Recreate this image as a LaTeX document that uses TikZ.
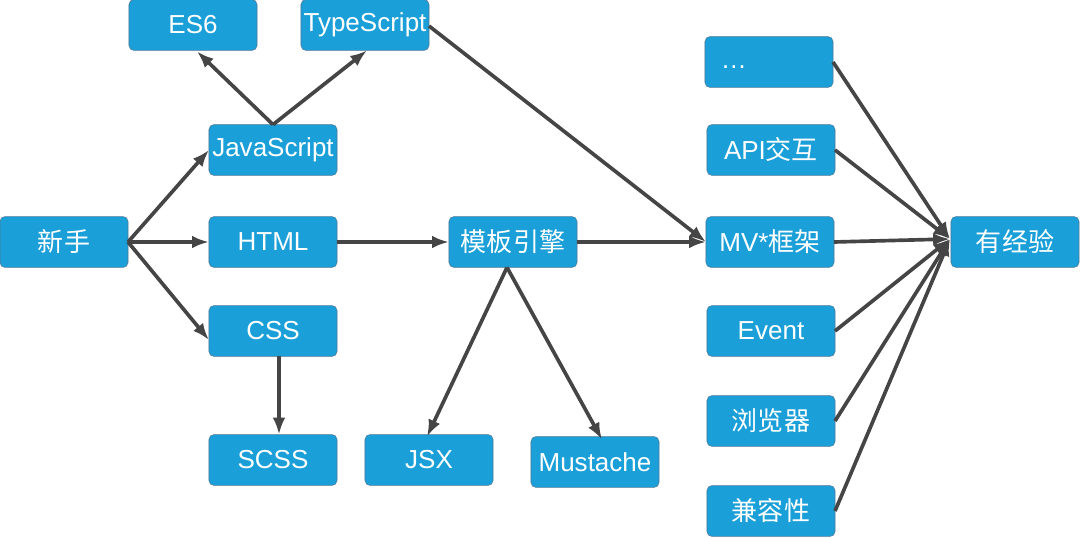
\documentclass[tikz,border=0pt]{standalone}
\usepackage{fontspec}
\setmainfont{Liberation Sans}
\newfontfamily\cjk{Noto Sans CJK SC}
\usetikzlibrary{arrows.meta,calc}
\definecolor{boxblue}{RGB}{26,159,216}
\definecolor{boxline}{RGB}{80,120,150}
\definecolor{arr}{RGB}{69,69,69}
\begin{document}
\begin{tikzpicture}[x=0.025cm,y=-0.025cm,
  box/.style={draw=boxline,line width=0.4pt,fill=boxblue,rounded corners=3.5pt,
    minimum width=3.2cm,minimum height=1.27cm,inner sep=0pt,outer sep=0pt,
    text=white,font=\fontsize{18.5}{21}\selectfont},
  link/.style={draw=arr,line width=2.6pt,-{Latex[length=12pt,width=9pt]}}]
\useasboundingbox (0,0) rectangle (1080,538);

\node[box] (xs)   at (64,242)  {\cjk 新手};
\node[box] (js)   at (273,150) {JavaScript};
\node[box] (html) at (273,242) {HTML};
\node[box] (css)  at (273,331) {CSS};
\node[box] (scss) at (273,460) {SCSS};
\node[box] (es6)  at (193,25)  {ES6};
\node[box] (ts)   at (365,25)  {TypeScript};
\node[box] (tpl)  at (513,242) {\cjk 模板引擎};
\node[box] (jsx)  at (429,460) {JSX};
\node[box] (mus)  at (595,462) {Mustache};
\node[box] (etc)  at (769,62)  {\vphantom{Ag}…\hspace*{2.7em}};
\node[box] (api)  at (771,150) {API{\cjk 交互}};
\node[box] (mv)   at (770,242) {MV*{\cjk 框架}};
\node[box] (ev)   at (771,331) {Event};
\node[box] (br)   at (771,421) {\cjk 浏览器};
\node[box] (cp)   at (771,511) {\cjk 兼容性};
\node[box] (exp)  at (1015,242) {\cjk 有经验};
\coordinate (conv) at (950,239);

\draw[link] (xs.east) -- (js.west);
\draw[link] (xs.east) -- (html.west);
\draw[link] (xs.east) -- ($(css.west)+(0,9)$);
\draw[link] (js.north) -- ($(es6.south)+(4,1)$);
\draw[link] (js.north) -- ($(ts.south)+(2,0)$);
\draw[link] ($(css.south)+(6,0)$) -- ($(scss.north)+(6,0)$);
\draw[link] (html.east) -- (tpl.west);
\draw[link] (tpl.east) -- (mv.west);
\draw[link] ($(ts.east)+(0,1)$) -- (mv.west);
\draw[link] ($(tpl.south)+(-6,0)$) -- ($(jsx.north)+(-2,2)$);
\draw[link] ($(tpl.south)+(-6,0)$) -- ($(mus.north)+(7,3)$);
\draw[link] (etc.east) -- (conv);
\draw[link] (api.east) -- (conv);
\draw[link] (mv.east) -- (conv);
\draw[link] (ev.east) -- (conv);
\draw[link] (br.east) -- (conv);
\draw[link] (cp.east) -- (conv);
\end{tikzpicture}
\end{document}
